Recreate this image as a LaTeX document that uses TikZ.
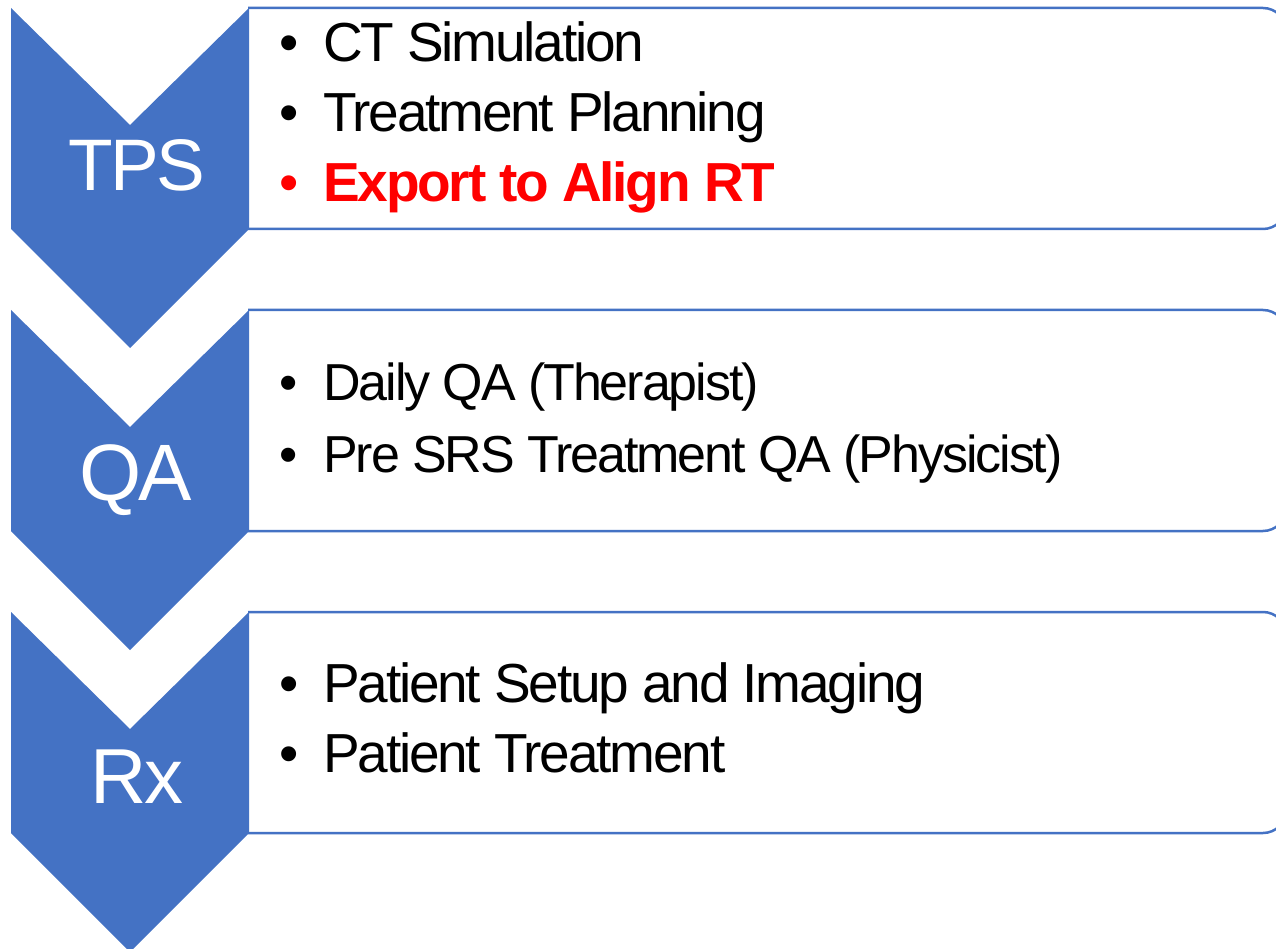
\documentclass[tikz,border=0pt]{standalone}
\usepackage{fontspec}
\setmainfont{Liberation Sans}
\newfontfamily\tightfont{Liberation Sans}[LetterSpace=-4.0]
\definecolor{accent}{HTML}{4472C4}
\definecolor{alertred}{HTML}{FF0000}

% one step of the process: rounded panel on the right, chevron on the left
\newcommand{\stepshape}[1]{% #1 = top edge
  \begin{scope}
    \clip (248,#1-10) rectangle (1300,#1+231);
    \draw[panel] (200,#1) rectangle (1286,#1+221);
  \end{scope}
  \fill[accent] (11,#1) -- (130,#1+117) -- (249,#1) -- (249,#1+221)
     -- (130,#1+340) -- (11,#1+221) -- cycle;
}

\tikzset{
  panel/.style={draw=accent, line width=2.5pt, fill=white, rounded corners=23pt},
  steplabel/.style={anchor=base, text=white, inner sep=0pt},
  item/.style={anchor=base west, inner sep=0pt, text=black,
    font=\tightfont\fontsize{55}{66}\selectfont},
}
\newcommand{\bul}{\makebox[45pt][l]{\hspace{1pt}•}}

\begin{document}
\begin{tikzpicture}[x=1pt,y=-1pt]
\useasboundingbox (0,0) rectangle (1276,949);

\stepshape{8}
\stepshape{310}
\stepshape{612}

% labels in the chevrons
\node[steplabel, font=\tightfont\fontsize{73}{80}\selectfont] (tps) at (137,191) {TPS};
\node[steplabel, font=\tightfont\fontsize{80}{90}\selectfont] (qa) at (136,500) {QA};
\node[steplabel, font=\tightfont\fontsize{78}{90}\selectfont] (rx) at (137,803) {Rx};

% items of the first step
\node[item] (tps1) at (278,62) {\bul CT Simulation};
\node[item] (tps2) at (278,132) {\bul Treatment Planning};
\node[item, text=alertred] (tps3) at (278,202) {\bul\bfseries Export to Align RT};

% items of the second step
\node[item, font=\tightfont\fontsize{52}{64}\selectfont] (qa1) at (278,400) {\bul Daily QA (Therapist)};
\node[item, font=\tightfont\fontsize{52}{64}\selectfont] (qa2) at (278,472) {\bul Pre SRS Treatment QA (Physicist)};

% items of the third step
\node[item] (rx1) at (278,702) {\bul Patient Setup and Imaging};
\node[item] (rx2) at (278,772) {\bul Patient Treatment};
\end{tikzpicture}
\end{document}
